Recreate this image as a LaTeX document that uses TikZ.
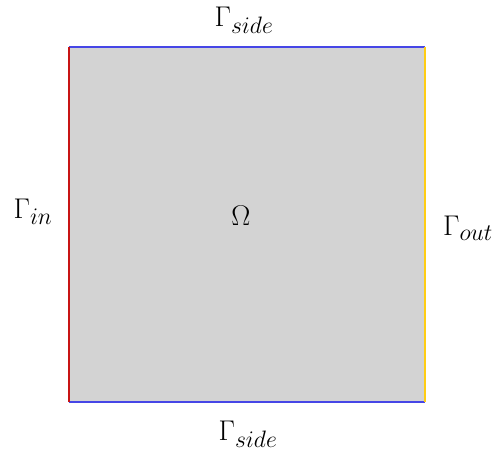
\documentclass[tikz,border=0pt]{standalone}
\usepackage{amsmath}
\usepackage{xcolor}
\usepackage{tikz}
\definecolor{domaingray}{RGB}{211,211,211}
\definecolor{sideblue}{RGB}{70,70,230}
\definecolor{inred}{RGB}{200,20,20}
\definecolor{outyellow}{RGB}{255,205,20}
\tikzstyle{boundary} = [line width=1.5pt]
\tikzstyle{blabel} = [font=\Huge, scale=0.86, inner sep=0pt]

\begin{document}
\begin{tikzpicture}[x=0.75pt, y=-0.75pt]
  \useasboundingbox (0,0) rectangle (495,455);

  \coordinate (sw) at (69,402);
  \coordinate (se) at (425,402);
  \coordinate (ne) at (425,47);
  \coordinate (nw) at (69,47);

  \fill [domaingray] (sw) rectangle (ne);
  \draw [boundary, sideblue] (nw) -- (ne);
  \draw [boundary, sideblue] (sw) -- (se);
  \draw [boundary, inred] (sw) -- (nw);
  \draw [boundary, outyellow] (se) -- (ne);

  \node (omega) [blabel] at (241,216) {$\Omega$};
  \node (top) [blabel] at (244,20) {$\Gamma_{side}$};
  \node (bottom) [blabel] at (248,434) {$\Gamma_{side}$};
  \node (in) [blabel] at (33,212) {$\Gamma_{in}$};
  \node (out) [blabel] at (468,228) {$\Gamma_{out}$};

\end{tikzpicture}
\end{document}
